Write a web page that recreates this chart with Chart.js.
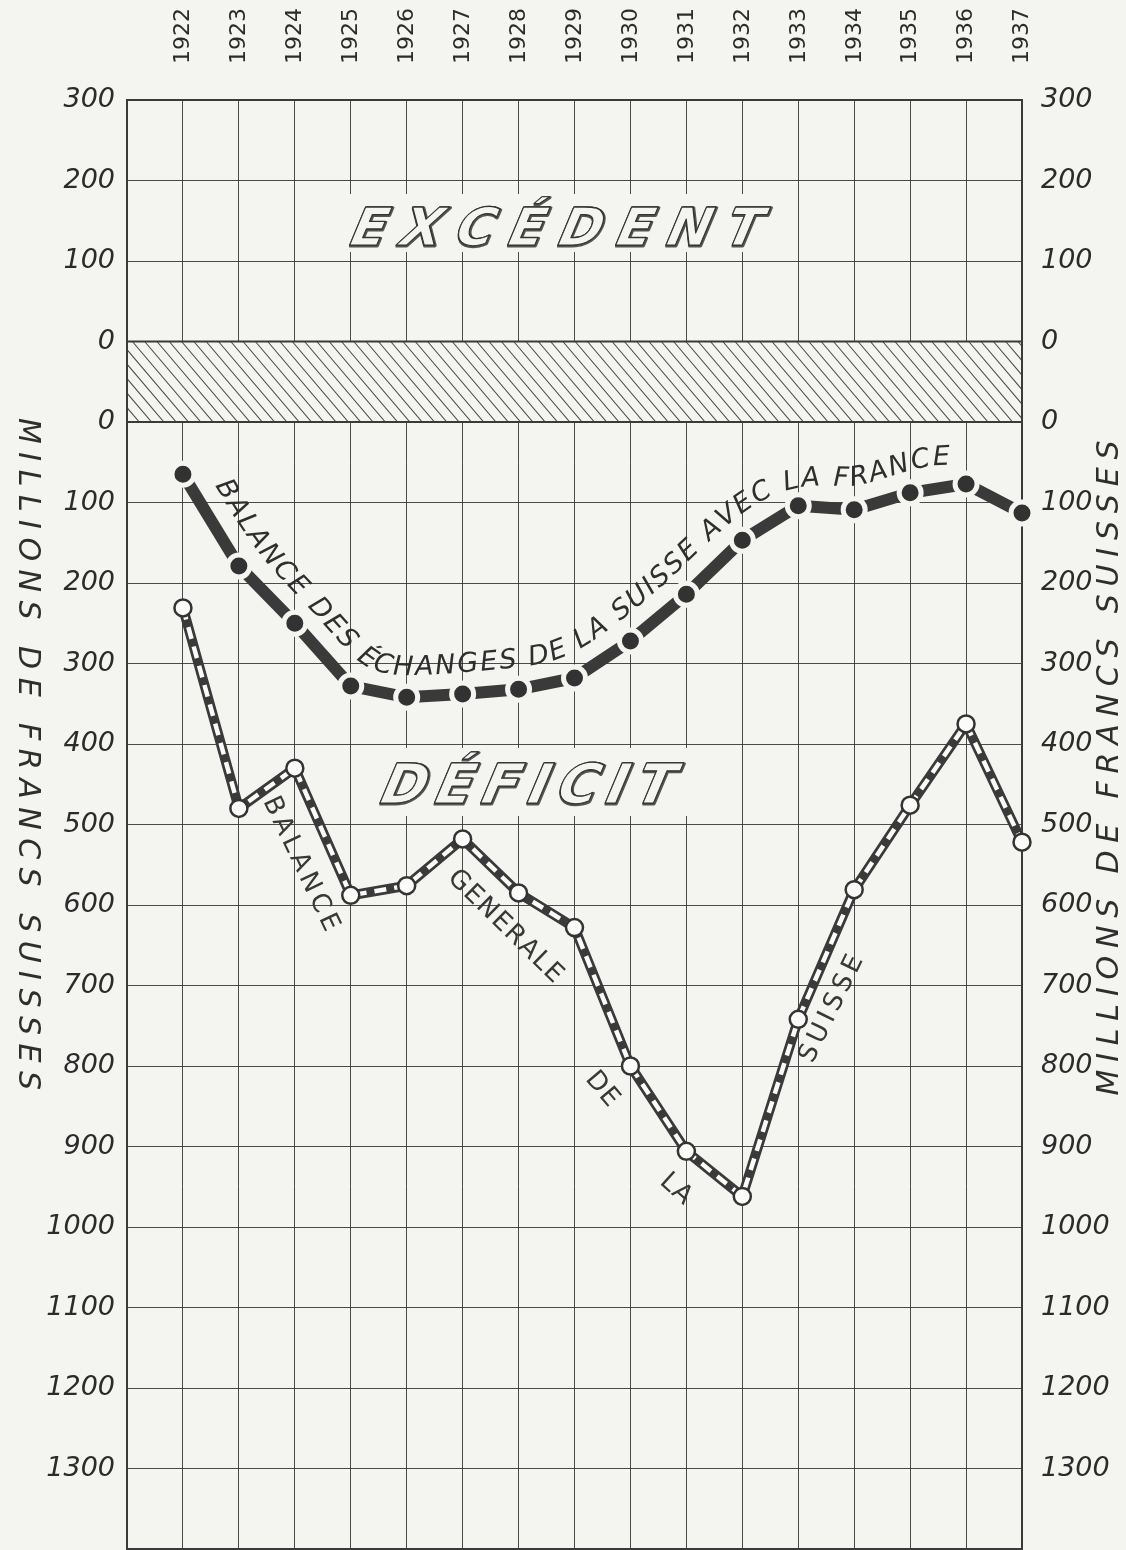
<!DOCTYPE html>
<html><head><meta charset="utf-8">
<script src="https://cdn.jsdelivr.net/npm/chart.js@4.4.1/dist/chart.umd.min.js"></script>
<style>
html,body{margin:0;padding:0;background:#f4f4f1;overflow:hidden;}
#wrap{position:relative;width:1126px;height:1550px;overflow:hidden;}
</style></head><body>
<div id="wrap"><canvas id="c" width="1126" height="1565"></canvas></div>
<script>
// ---------- DATA ----------
const years = [1922,1923,1924,1925,1926,1927,1928,1929,1930,1931,1932,1933,1934,1935,1936,1937];
// déficit (millions de francs suisses)
const balanceFrance   = [65,179,250,328,342,338,332,318,272,214,147,104,109,88,77,113];
const balanceGenerale = [231,480,430,588,576,518,585,628,800,906,962,742,581,476,375,522];
const excedentTicks = [300,200,100,0];
const deficitTicks  = [0,100,200,300,400,500,600,700,800,900,1000,1100,1200,1300];
const titleFrance = 'BALANCE DES ÉCHANGES DE LA SUISSE AVEC LA FRANCE';
const wordsGenerale = ['BALANCE','GENERALE','DE','LA','SUISSE'];
const axisTitle = 'MILLIONS DE FRANCS SUISSES';
const labelExcedent = 'EXCÉDENT';
const labelDeficit = 'DÉFICIT';

// ---------- helpers ----------
const BG = '#f4f4f1', INK = '#333333';
const BAND = 100;                 // hatched gap between excédent 0 and déficit 0 (axis units)
const toAxis = d => -(d + BAND);  // déficit value -> axis value
const Y_MIN = toAxis(1400), Y_MAX = 300;
const tickLabel = new Map();
excedentTicks.forEach(v => tickLabel.set(v, String(v)));
deficitTicks.forEach(v => tickLabel.set(toAxis(v), String(v)));

// placement of the words of the second title (year, déficit, angle deg, length px)
const wordPlacement = [[1924.1,549,64.5,146],[1927.76,627,44.4,150],[1929.49,829,50,34],[1930.81,953,42,30],[1933.6,729,-64,116]];

function drawSpaced(ctx, text, cx, cy, ang, spacing, totalLen){
  const ws = [...text].map(ch => ctx.measureText(ch).width);
  const W = ws.reduce((a,b)=>a+b,0);
  if (totalLen != null) spacing = Math.max(1, (totalLen - W) / (ws.length - 1));
  const L = W + spacing*(ws.length-1);
  ctx.save(); ctx.translate(cx, cy); ctx.rotate(ang);
  ctx.textAlign = 'left';
  let x = -L/2;
  [...text].forEach((ch,i)=>{ ctx.fillText(ch, x, 0); x += ws[i] + spacing; });
  ctx.restore();
}

function outlined(ctx, text, x0, base, width, size, skew){
  ctx.save();
  ctx.font = `bold ${size}px "DejaVu Sans"`;
  ctx.textAlign='left'; ctx.textBaseline='alphabetic';
  const chs=[...text]; const ws = chs.map(c=>ctx.measureText(c).width);
  const W = ws.reduce((a,b)=>a+b,0);
  const sp = (width - W)/(chs.length-1);
  ctx.translate(x0, base); ctx.transform(1,0,-skew,1,0,0);
  ctx.lineJoin='round';
  let x=0;
  chs.forEach((c,i)=>{
    ctx.strokeStyle='#555'; ctx.lineWidth=3; ctx.strokeText(c, x+1.2, 1.2);
    ctx.fillStyle=BG; ctx.fillText(c, x, 0);
    ctx.strokeStyle=INK; ctx.lineWidth=1.5; ctx.strokeText(c, x, 0);
    ctx.fillStyle=BG; ctx.fillText(c, x, 0);
    ctx.strokeStyle=INK; ctx.lineWidth=1.1; ctx.strokeText(c, x, 0);
    x += ws[i]+sp;
  });
  ctx.restore();
}

function textAlongLine(ctx, pts, text, d, u0, u1){
  const S=24, smp=[];
  for(let i=0;i<pts.length-1;i++){
    const p0=pts[Math.max(i-1,0)], p1=pts[i], p2=pts[i+1], p3=pts[Math.min(i+2,pts.length-1)];
    for(let k=0;k<S;k++){
      const t=k/S,t2=t*t,t3=t2*t;
      const f=(a,b,c,e)=>0.5*((2*b)+(-a+c)*t+(2*a-5*b+4*c-e)*t2+(-a+3*b-3*c+e)*t3);
      smp.push({x:f(p0.x,p1.x,p2.x,p3.x), y:f(p0.y,p1.y,p2.y,p3.y)});
    }
  }
  smp.push({x:pts[pts.length-1].x,y:pts[pts.length-1].y});
  let off = smp.map((p,i)=>{
    const a=smp[Math.max(i-2,0)], b=smp[Math.min(i+2,smp.length-1)];
    let tx=b.x-a.x, ty=b.y-a.y; const l=Math.hypot(tx,ty)||1; tx/=l; ty/=l;
    return {x:p.x+ty*d, y:p.y-tx*d};
  });
  const Wn=14;
  off = off.map((p,i)=>{ let sx=0,sy=0,n=0; for(let j=i-Wn;j<=i+Wn;j++){ const q=off[Math.min(Math.max(j,0),off.length-1)]; sx+=q.x; sy+=q.y; n++; } return {x:sx/n,y:sy/n}; });
  const cum=[0]; for(let i=1;i<off.length;i++) cum.push(cum[i-1]+Math.hypot(off[i].x-off[i-1].x, off[i].y-off[i-1].y));
  const arcAtU = u => { const f=u*S, i=Math.floor(f), r=f-i; return cum[i]+(cum[Math.min(i+1,cum.length-1)]-cum[i])*r; };
  const at = s => { let i=1; while(i<cum.length-1 && cum[i]<s) i++; const a=off[i-1], b=off[i]; const r=(s-cum[i-1])/((cum[i]-cum[i-1])||1); return {x:a.x+(b.x-a.x)*r, y:a.y+(b.y-a.y)*r, ang:Math.atan2(b.y-a.y,b.x-a.x)}; };
  const s0=arcAtU(u0), s1=arcAtU(u1);
  const chs=[...text]; const ws=chs.map(c=>ctx.measureText(c).width);
  const W=ws.reduce((a,b)=>a+b,0); const sp=(s1-s0-W)/(chs.length-1);
  let s=s0;
  ctx.textAlign='center'; ctx.textBaseline='alphabetic';
  chs.forEach((c,i)=>{
    const p=at(s+ws[i]/2);
    ctx.save(); ctx.translate(p.x,p.y); ctx.rotate(p.ang); ctx.fillText(c,0,0); ctx.restore();
    s+=ws[i]+sp;
  });
}

const decor = {
  id:'decor',
  beforeDraw(chart){ const c=chart.ctx; c.save(); c.fillStyle=BG; c.fillRect(0,0,chart.width,chart.height); c.restore(); },
  beforeDatasetsDraw(chart){
    const {ctx, chartArea:a, scales:{y}} = chart;
    const t=y.getPixelForValue(0), b=y.getPixelForValue(-BAND);
    ctx.save();
    ctx.fillStyle=BG; ctx.fillRect(a.left,t,a.right-a.left,b-t);
    ctx.beginPath(); ctx.rect(a.left,t,a.right-a.left,b-t); ctx.clip();
    ctx.strokeStyle='#4a4a4a'; ctx.lineWidth=1.1;
    const h=b-t, dx=h*0.85;
    ctx.beginPath();
    for(let x0=a.left-dx; x0<a.right+5; x0+=12.3){ ctx.moveTo(x0,t); ctx.lineTo(x0+dx,b); }
    ctx.stroke(); ctx.restore();
    ctx.save(); ctx.strokeStyle='#3a3a3a'; ctx.lineWidth=2;
    ctx.beginPath(); ctx.moveTo(a.left,t); ctx.lineTo(a.right,t); ctx.moveTo(a.left,b); ctx.lineTo(a.right,b); ctx.stroke();
    ctx.strokeRect(a.left,a.top,a.right-a.left,a.bottom-a.top);
    ctx.restore();
    // outlined labels on cleared boxes
    ctx.save(); ctx.fillStyle=BG;
    ctx.fillRect(338,194,442,58);
    ctx.fillRect(368,748,330,68);
    ctx.restore();
    outlined(ctx, labelExcedent, 345, 245, 410, 52, 0.42);
    outlined(ctx, labelDeficit, 375, 803, 292, 55, 0.42);
  },
  afterDatasetsDraw(chart){
    const {ctx, scales:{x,y}} = chart;
    ctx.save();
    ctx.fillStyle='#2e2e2e';
    ctx.font='italic 27px "DejaVu Sans"';
    const pts = chart.getDatasetMeta(0).data.map(e=>({x:e.x,y:e.y}));
    textAlongLine(ctx, pts, titleFrance, 22, 0.2, 13.72);
    ctx.font='26px "DejaVu Sans"'; ctx.textBaseline='middle'; ctx.fillStyle='#383838';
    wordsGenerale.forEach((w,i)=>{
      const [xv,dv,ang,len]=wordPlacement[i];
      drawSpaced(ctx, w, x.getPixelForValue(xv), y.getPixelForValue(toAxis(dv)), ang*Math.PI/180, 3, len);
    });
    ctx.font='italic 30px "DejaVu Sans"'; ctx.fillStyle='#2e2e2e';
    drawSpaced(ctx, axisTitle, 27, 754, Math.PI/2, 0, 672);
    drawSpaced(ctx, axisTitle, 1110, 768, -Math.PI/2, 0, 655);
    ctx.restore();
  }
};

const pts = arr => years.map((yr,i)=>({x:yr, y:toAxis(arr[i])}));
const tickFont = {family:'DejaVu Sans', style:'italic', size:27};
const noPad = s => { s.paddingTop = 0; s.paddingBottom = 0; };

new Chart(document.getElementById('c'), {
  type:'line',
  data:{ datasets:[
    { label:'Balance des échanges de la Suisse avec la France', data:pts(balanceFrance),
      borderColor:'#3a3a3a', borderWidth:12, borderCapStyle:'butt', tension:0, clip:false,
      pointRadius:11, pointBorderWidth:5, pointBackgroundColor:'#323232', pointBorderColor:BG, order:0 },
    { label:'Balance générale de la Suisse', data:pts(balanceGenerale),
      borderColor:'#fbfbf9', borderWidth:4.5, borderDash:[12,8], tension:0, clip:false,
      pointRadius:8.5, pointBorderWidth:2.5, pointBackgroundColor:'#fbfbf9', pointBorderColor:'#333', order:1 },
    { label:'casing', data:pts(balanceGenerale),
      borderColor:'#3a3a3a', borderWidth:10, tension:0, clip:false, pointRadius:0, order:2 }
  ]},
  options:{
    responsive:false, animation:false, devicePixelRatio:1, events:[],
    layout:{padding:{top:0,bottom:0,left:0,right:0}},
    plugins:{legend:{display:false}, tooltip:{enabled:false}},
    scales:{
      x:{ type:'linear', position:'top', min:1921, max:1937,
          grid:{color:'rgba(45,45,45,0.85)', lineWidth:1, drawTicks:false},
          border:{display:false},
          ticks:{ stepSize:1, autoSkip:false, minRotation:90, maxRotation:90, padding:36, labelOffset:27,
                  color:'#2b2b2b', font:{family:'DejaVu Sans', size:22},
                  callback:v => years.includes(v) ? String(v) : '' },
          afterFit:s=>{ s.height=100; s.paddingLeft=0; s.paddingRight=0; } },
      y:{ type:'linear', position:'left', min:Y_MIN, max:Y_MAX,
          grid:{color:'rgba(45,45,45,0.85)', lineWidth:1, drawTicks:false},
          border:{display:false},
          ticks:{ stepSize:100, autoSkip:false, padding:12, color:'#2b2b2b', font:tickFont,
                  callback:v => tickLabel.has(v) ? tickLabel.get(v) : '' },
          afterFit:s=>{ s.width=127; noPad(s); } },
      y2:{ type:'linear', position:'right', min:Y_MIN, max:Y_MAX,
          grid:{display:false}, border:{display:false},
          ticks:{ stepSize:100, autoSkip:false, padding:11, color:'#2b2b2b', font:tickFont,
                  callback:v => tickLabel.has(v) ? tickLabel.get(v) : '' },
          afterFit:s=>{ s.width=104; noPad(s); } }
    }
  },
  plugins:[decor]
});
</script>
</body></html>
